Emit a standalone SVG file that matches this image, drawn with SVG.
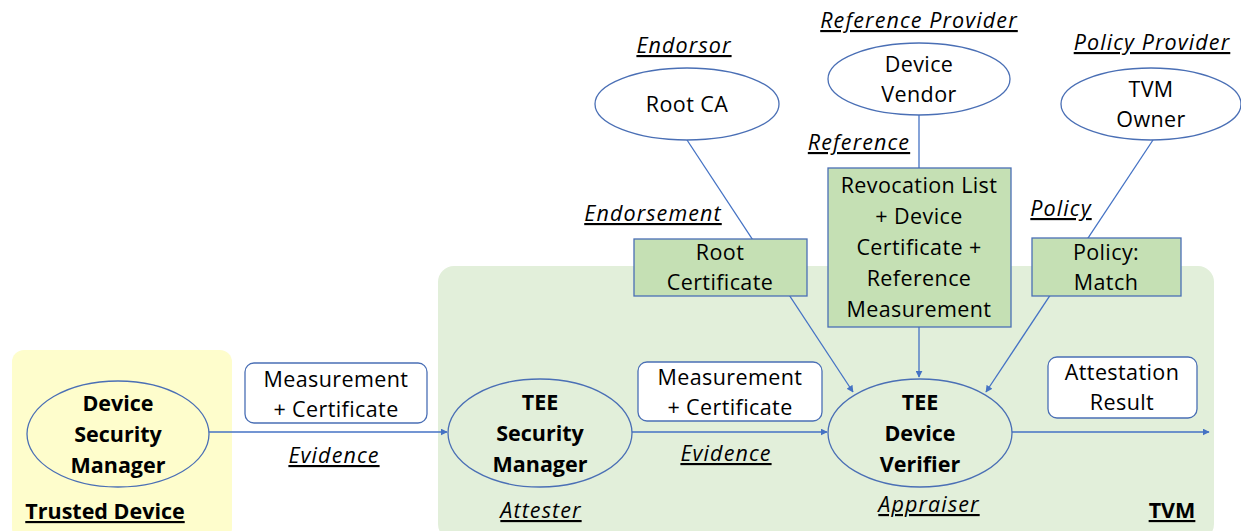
<svg xmlns="http://www.w3.org/2000/svg" width="1241" height="531" viewBox="0 0 1241 531">
  <defs>
    <marker id="arrow" viewBox="0 0 10 10" refX="9" refY="5" markerWidth="7" markerHeight="7" orient="auto" markerUnits="userSpaceOnUse">
      <path d="M0,0 L10,5 L0,10 z" fill="#4472C4"/>
    </marker>
    <style>
      text { font-family: "Open Sans", Lato, "Liberation Sans", sans-serif; font-size: 21.5px; fill: #000; text-anchor: middle; letter-spacing: 0.4px; }
      .b { font-weight: bold; letter-spacing: 0; }
      .role { font-style: italic; text-decoration: underline; letter-spacing: 1.1px; }
      .ttl { font-weight: bold; text-decoration: underline; letter-spacing: 0; }
      .ell { fill: none; stroke: #4A6FB5; stroke-width: 1.3; }
      .ellw { fill: #fff; stroke: #4A6FB5; stroke-width: 1.3; }
      .msg { fill: #fff; stroke: #4A6FB5; stroke-width: 1.3; }
      .data { fill: #C5E0B4; stroke: #4A6FB5; stroke-width: 1.3; }
      .conn line { stroke: #4472C4; stroke-width: 1.3; }
    </style>
  </defs>

  <!-- zones -->
  <g id="trusted-device-zone">
    <rect x="12" y="350" width="220" height="190" rx="12" fill="#FEFDCC"/>
    <text x="105" y="519" class="ttl">Trusted Device</text>
  </g>
  <g id="tvm-zone">
    <rect x="438" y="266" width="776" height="274" rx="16" fill="#E2EFDA"/>
    <text x="1172" y="518" class="ttl">TVM</text>
  </g>

  <!-- connectors -->
  <g id="connectors" class="conn">
    <line x1="209" y1="432" x2="447" y2="432" marker-end="url(#arrow)"/>
    <line x1="632" y1="432" x2="827" y2="432" marker-end="url(#arrow)"/>
    <line x1="1012" y1="432" x2="1209" y2="432" marker-end="url(#arrow)"/>
    <line x1="687" y1="140" x2="853" y2="392" marker-end="url(#arrow)"/>
    <line x1="919" y1="115" x2="919" y2="377" marker-end="url(#arrow)"/>
    <line x1="1153" y1="140" x2="986" y2="392" marker-end="url(#arrow)"/>
  </g>

  <!-- attestation flow -->
  <g id="device-security-manager">
    <ellipse cx="118" cy="434" rx="91" ry="53" class="ell"/>
    <text x="118" y="411" class="b">Device</text>
    <text x="118" y="442" class="b">Security</text>
    <text x="118" y="473" class="b">Manager</text>
  </g>
  <g id="evidence-1">
    <rect x="245" y="363" width="182" height="60" rx="9" class="msg"/>
    <text x="336" y="387">Measurement</text>
    <text x="336" y="417">+ Certificate</text>
    <text x="334" y="463" class="role">Evidence</text>
  </g>
  <g id="tee-security-manager">
    <ellipse cx="540" cy="433" rx="92" ry="54" class="ell"/>
    <text x="540" y="410" class="b">TEE</text>
    <text x="540" y="441" class="b">Security</text>
    <text x="540" y="472" class="b">Manager</text>
    <text x="541" y="518" class="role">Attester</text>
  </g>
  <g id="evidence-2">
    <rect x="638" y="362" width="184" height="59" rx="9" class="msg"/>
    <text x="730" y="385">Measurement</text>
    <text x="730" y="415">+ Certificate</text>
    <text x="726" y="461" class="role">Evidence</text>
  </g>
  <g id="tee-device-verifier">
    <ellipse cx="920" cy="433" rx="92" ry="54" class="ell"/>
    <text x="920" y="410" class="b">TEE</text>
    <text x="920" y="441" class="b">Device</text>
    <text x="920" y="472" class="b">Verifier</text>
    <text x="929" y="512" class="role">Appraiser</text>
  </g>
  <g id="attestation-result">
    <rect x="1048" y="357" width="149" height="61" rx="9" class="msg"/>
    <text x="1122" y="380">Attestation</text>
    <text x="1122" y="410">Result</text>
  </g>

  <!-- endorser -->
  <g id="root-ca">
    <text x="684" y="53" class="role">Endorsor</text>
    <ellipse cx="687" cy="104" rx="92" ry="36" class="ellw"/>
    <text x="687" y="112">Root CA</text>
  </g>
  <g id="root-certificate">
    <text x="653" y="221" class="role">Endorsement</text>
    <rect x="634" y="239" width="173" height="57" class="data"/>
    <text x="720" y="260">Root</text>
    <text x="720" y="290">Certificate</text>
  </g>

  <!-- reference value provider -->
  <g id="device-vendor">
    <text x="919" y="28" class="role">Reference Provider</text>
    <ellipse cx="919" cy="79" rx="91" ry="36" class="ellw"/>
    <text x="919" y="72">Device</text>
    <text x="919" y="102">Vendor</text>
  </g>
  <g id="reference-values">
    <text x="859" y="150" class="role">Reference</text>
    <rect x="828" y="168" width="183" height="159" class="data"/>
    <text x="919" y="193">Revocation List</text>
    <text x="919" y="224">+ Device</text>
    <text x="919" y="255">Certificate +</text>
    <text x="919" y="286">Reference</text>
    <text x="919" y="317">Measurement</text>
  </g>

  <!-- policy provider -->
  <g id="tvm-owner">
    <text x="1152" y="50" class="role">Policy Provider</text>
    <ellipse cx="1151" cy="104" rx="90" ry="36" class="ellw"/>
    <text x="1151" y="97">TVM</text>
    <text x="1151" y="127">Owner</text>
  </g>
  <g id="policy">
    <text x="1061" y="216" class="role">Policy</text>
    <rect x="1032" y="238" width="149" height="58" class="data"/>
    <text x="1106" y="260">Policy:</text>
    <text x="1106" y="290">Match</text>
  </g>
</svg>
